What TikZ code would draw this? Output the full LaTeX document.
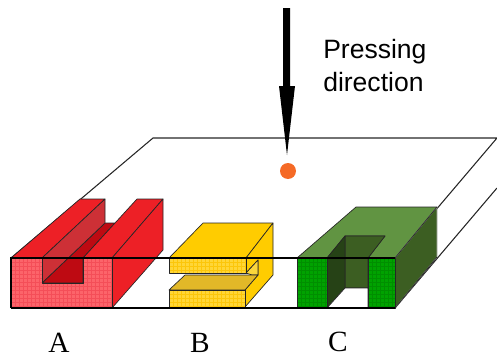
\documentclass[tikz,border=0pt]{standalone}
\usepackage{fontspec}
\setmainfont{Liberation Serif}
\newfontfamily\arialfont{Liberation Sans}
\definecolor{redfront}{RGB}{244,78,88}
\definecolor{redlight}{RGB}{252,100,106}
\definecolor{redmain}{RGB}{237,32,38}
\definecolor{redwall}{RGB}{205,48,54}
\definecolor{reddark}{RGB}{190,10,18}
\definecolor{yelmain}{RGB}{255,204,0}
\definecolor{yelfront}{RGB}{252,198,10}
\definecolor{yellight}{RGB}{255,214,55}
\definecolor{yelwall}{RGB}{226,184,40}
\definecolor{yelinner}{RGB}{250,214,60}
\definecolor{grntop}{RGB}{97,148,66}
\definecolor{grnside}{RGB}{60,94,34}
\definecolor{grnwall}{RGB}{38,66,22}
\definecolor{grnfront}{RGB}{0,142,0}
\definecolor{grnlight}{RGB}{0,162,0}
\definecolor{dotorange}{RGB}{245,106,38}
\definecolor{edgegray}{RGB}{175,175,175}
\newcommand{\spotgrid}[5]{% polygon path, x list, y list, base colour, spot colour
  \begin{scope}
    \clip #1;
    \fill[#4] #1;
    \foreach \sx in {#2}{\foreach \sy in {#3}{
      \fill[#5] (\sx,\sy) rectangle ++(2.5,2.5);
    }}
  \end{scope}
  \draw[facet] #1;
}
\tikzset{
  facet/.style={draw=black!70!gray,line width=0.5pt,line join=round},
  boxline/.style={draw=black!85,line width=0.8pt,line join=miter},
  boxfront/.style={draw=black,line width=1.2pt},
  faint/.style={draw=edgegray,line width=0.6pt},
  sans/.style={font=\arialfont\fontsize{19.9}{24}\selectfont,align=left,inner sep=0pt},
  letter/.style={font=\fontsize{22}{26}\selectfont,inner sep=0pt}
}
\begin{document}
\begin{tikzpicture}[x=0.75pt,y=-0.75pt]
\useasboundingbox (0,0) rectangle (497,357);
% work-piece outline, back edges
\coordinate (bl) at (153,138);
\coordinate (br) at (497,138);
\coordinate (fl) at (11,258);
\coordinate (fr) at (395,258);
\coordinate (flb) at (11,308);
\coordinate (frb) at (395,308);
\coordinate (brb) at (497,188);
\draw[faint] (br) -- (brb);
\draw[boxline] (fl) -- (bl) -- (br) -- (fr);
\draw[boxline] (frb) -- (brb);
% red part A
\draw[facet,fill=redmain] (11,258) -- (80,199) -- (105,199) -- (42,258) -- cycle;
\draw[facet,fill=reddark] (42,283) -- (105,223) -- (115,223) -- (83,258) -- (83,283) -- cycle;
\draw[facet,fill=redwall] (42,258) -- (105,199) -- (105,223) -- (42,283) -- cycle;
\draw[facet,fill=redmain] (83,258) -- (137,199) -- (163,199) -- (112,258) -- cycle;
\draw[facet,fill=redmain] (112,258) -- (163,199) -- (163,250) -- (112,308) -- cycle;
\spotgrid{(11,258) -- (42,258) -- (42,283) -- (83,283) -- (83,258) -- (112,258) -- (112,308) -- (11,308) -- cycle}{12,16,...,112}{259,263,...,308}{redfront}{redlight}
% yellow part B
\draw[facet,fill=yelmain] (169,258) -- (203,223) -- (273,223) -- (246,258) -- cycle;
\draw[facet,fill=yelmain] (246,258) -- (273,223) -- (273,275) -- (245,307) -- (245,290) -- (258,275) -- (258,260) -- (246,273) -- cycle;
\draw[facet,fill=yelinner] (246,273) -- (258,260) -- (258,275) -- (252,275) -- cycle;
\draw[facet,fill=yelwall] (169,290) -- (185,275) -- (258,275) -- (245,290) -- cycle;
\spotgrid{(169,258) rectangle (246,273)}{170,174,...,246}{259,263,...,273}{yelfront}{yellight}
\spotgrid{(169,290) rectangle (245,308)}{170,174,...,246}{291,295,...,308}{yelfront}{yellight}
% green part C
\draw[facet,fill=grntop] (297,258) -- (356,207) -- (437,207) -- (395,258) -- (368,258) -- (385,236) -- (345,236) -- (327,258) -- cycle;
\draw[facet,fill=grnside,draw=edgegray] (395,258) -- (437,207) -- (437,257) -- (395,308) -- cycle;
\draw[facet] (395,258) -- (437,207);
\draw[facet] (437,257) -- (395,308);
\draw[facet,fill=grnside] (345,236) -- (385,236) -- (368,258) -- (368,288) -- (345,288) -- cycle;
\draw[facet,fill=grnwall] (327,258) -- (345,236) -- (345,288) -- (327,308) -- cycle;
\draw[facet,fill=white] (327,308) -- (345,288) -- (368,288) -- (368,308) -- cycle;
\spotgrid{(297,258) rectangle (327,308)}{298,302,...,327}{259,263,...,308}{grnfront}{grnlight}
\spotgrid{(368,258) rectangle (395,308)}{369,373,...,395}{259,263,...,308}{grnfront}{grnlight}
% front edges over everything
\draw[boxfront] (flb) -- (fl) -- (fr);
\draw[boxfront] (flb) -- (frb);
% pressing arrow and dot
\fill[black] (283,8) -- (290,8) -- (290,86) -- (295,86) -- (287,155) -- (279,86) -- (283,86) -- cycle;
\fill[dotorange] (288,171) circle (8);
% labels
\node[sans,anchor=base west] (press) at (323,58) {Pressing};
\node[sans,anchor=base west] (dirn) at (323,91) {direction};
\node[letter,anchor=base] (la) at (59,352) {A};
\node[letter,anchor=base] (lb) at (200,352) {B};
\node[letter,anchor=base] (lc) at (338,351) {C};
\end{tikzpicture}
\end{document}
